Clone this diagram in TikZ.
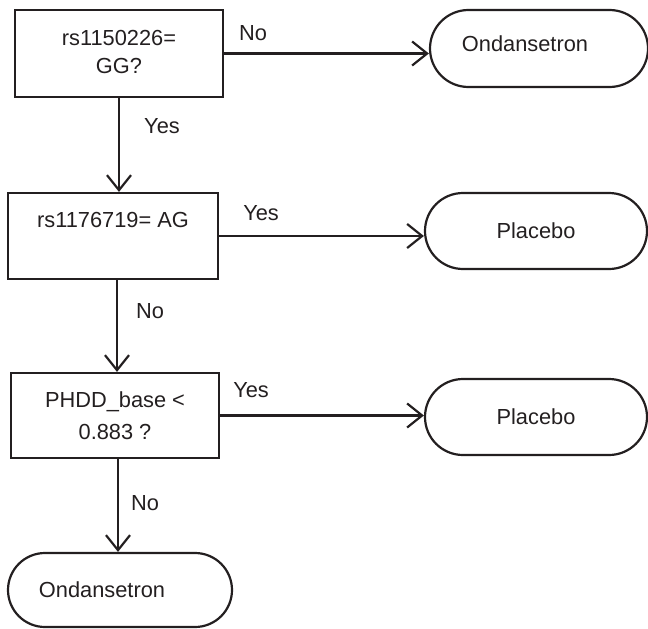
\documentclass[tikz,border=0pt]{standalone}
\usepackage{fontspec}
\setmainfont{Liberation Sans}
\usetikzlibrary{arrows.meta,shapes.misc}
\definecolor{ink}{RGB}{35,31,32}
\begin{document}
\begin{tikzpicture}[x=1pt,y=-1pt,
  every node/.style={font=\fontsize{21.8}{25}\selectfont, text=ink, inner sep=0pt},
  decbox/.style={draw=ink, line width=2.2pt, rectangle},
  term/.style={draw=ink, line width=2.2pt, rounded rectangle, rounded rectangle arc length=180},
  arr/.style={draw=ink, line width=2.2pt, -{Straight Barb[length=15pt,width=24pt,line width=2.2pt]}},
  lbl/.style={text=ink}]
\useasboundingbox (0,0) rectangle (648,629);
% decision boxes
\node[decbox, minimum width=208pt, minimum height=87pt,
  label={[align=center, yshift=2pt]center:rs1150226=\\[3pt]GG?}] (d1) at (119,53.5) {};
\node[decbox, minimum width=210pt, minimum height=86pt,
  label={[yshift=16pt]center:rs1176719= AG}] (d2) at (113,236) {};
\node[decbox, minimum width=208pt, minimum height=85pt,
  label={[align=center]center:PHDD\_base <\\[7pt]0.883 ?}] (d3) at (115,415.5) {};
% terminals
\node[term, minimum width=218pt, minimum height=77pt,
  label={[xshift=-14pt, yshift=5pt]center:Ondansetron}] (o1) at (539,48.5) {};
\node[term, minimum width=222pt, minimum height=76pt,
  label={center:Placebo}] (p1) at (536,231) {};
\node[term, minimum width=222pt, minimum height=76pt,
  label={center:Placebo}] (p2) at (536,417) {};
\node[term, minimum width=224pt, minimum height=74pt,
  label={[xshift=-18pt]center:Ondansetron}] (o2) at (120,590) {};
% connectors
\draw[arr] (d1.east) -- (d1.east -| o1.west)
  node[lbl, at start, xshift=29pt, yshift=20pt] {No};
\draw[arr] (d1.south) -- (d1.south |- d2.north)
  node[lbl, at start, xshift=43pt, yshift=-28pt] {Yes};
\draw[arr] (d2.east) -- (d2.east -| p1.west)
  node[lbl, at start, xshift=42pt, yshift=23pt] {Yes};
\draw[arr] ([xshift=4pt]d2.south) -- ([xshift=4pt]d2.south |- d3.north)
  node[lbl, at start, xshift=33pt, yshift=-31pt] {No};
\draw[arr] (d3.east) -- (d3.east -| p2.west)
  node[lbl, at start, xshift=31pt, yshift=25pt] {Yes};
\draw[arr] ([xshift=3pt]d3.south) -- ([xshift=3pt]d3.south |- o2.north)
  node[lbl, at start, xshift=27pt, yshift=-44pt] {No};
\end{tikzpicture}
\end{document}
